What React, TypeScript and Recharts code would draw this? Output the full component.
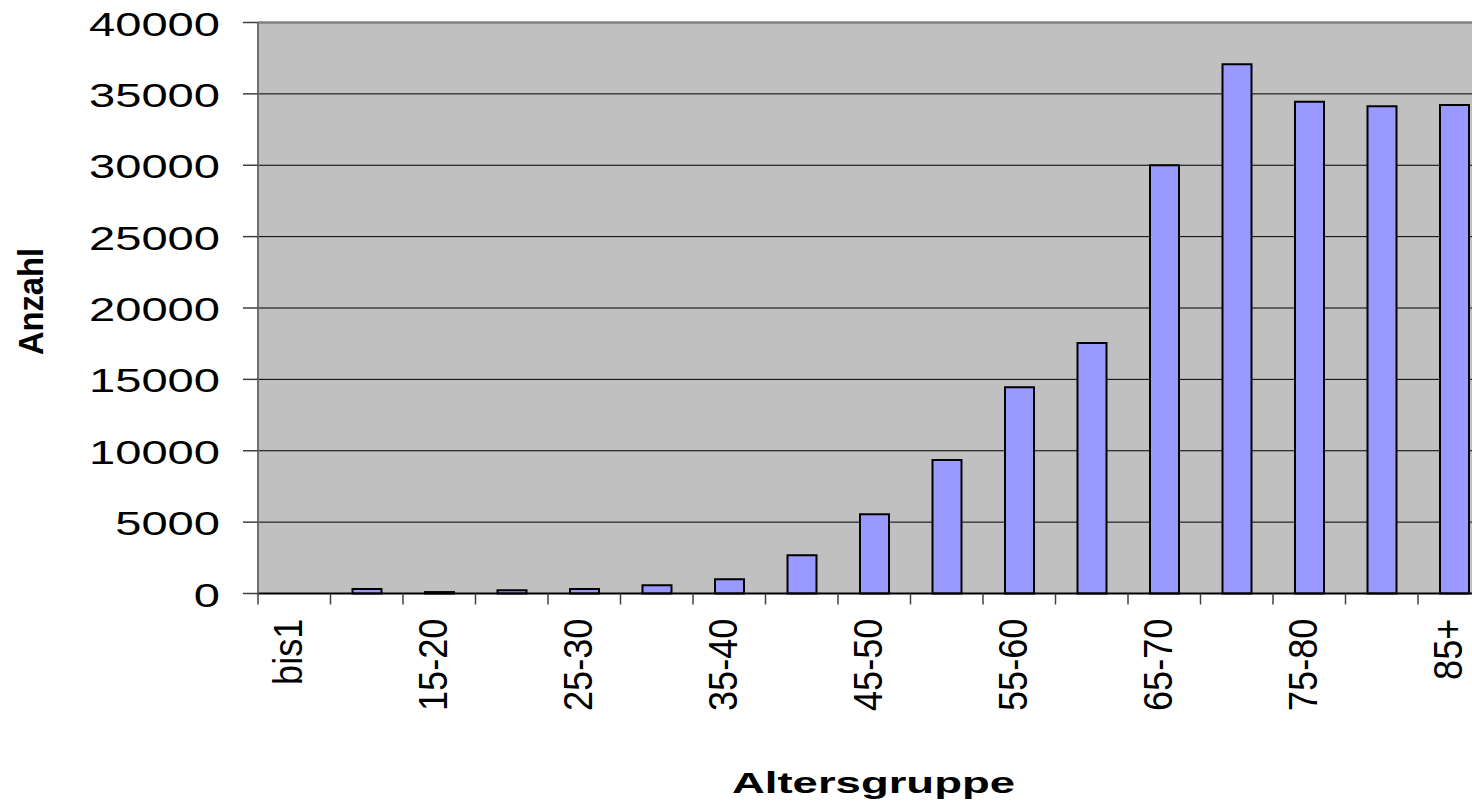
import React from 'react';
import { BarChart, Bar, XAxis, YAxis, CartesianGrid, ReferenceLine } from 'recharts';

const categories = ['bis1', '1-15', '15-20', '20-25', '25-30', '30-35', '35-40', '40-45', '45-50', '50-55', '55-60', '60-65', '65-70', '70-75', '75-80', '80-85', '85+'];
const counts = [0, 320, 100, 225, 320, 575, 1000, 2675, 5550, 9350, 14450, 17550, 30000, 37070, 34450, 34130, 34220];
const yTicks = [0, 5000, 10000, 15000, 20000, 25000, 30000, 35000, 40000];
const xTitle = 'Altersgruppe';
const yTitle = 'Anzahl';

const data = categories.map((c, i) => ({ cat: c, value: counts[i] }));

const FONT = '"Liberation Sans", Arial, sans-serif';
const CHART_W = 1500;
const CHART_H = 807;
const Y_AXIS_W = 258;
const MARGIN = { top: 22.5, right: 9.5, bottom: 0, left: 0 };
const X_AXIS_H = 213.5;
const BAND = (CHART_W - Y_AXIS_W - MARGIN.right - MARGIN.left) / categories.length;

const CHAR_W: Record<string, number> = { '-': 0.333, '+': 0.584, b: 0.556, i: 0.222, s: 0.5 };
const labelLength = (s: string) =>
  s.split('').reduce((acc, ch) => acc + (CHAR_W[ch] !== undefined ? CHAR_W[ch] : 0.556), 0) * 36.2;

const YTick = (props: any) => {
  const { x, y, payload } = props;
  const s = String(payload.value);
  return (
    <text
      x={x}
      y={y + 13}
      textAnchor="end"
      fontFamily={FONT}
      fontSize={33.5}
      fill="#000"
      textLength={26.2 * s.length}
      lengthAdjust="spacingAndGlyphs"
    >
      {s}
    </text>
  );
};

const XTick = (props: any) => {
  const { x, y, payload } = props;
  const idx = categories.indexOf(payload.value);
  const s = String(payload.value);
  return (
    <g>
      <line x1={x - BAND / 2} x2={x - BAND / 2} y1={y} y2={y + 11} stroke="#404040" strokeWidth={1.5} />
      {idx % 2 === 0 && (
        <text
          transform={`translate(${x + 8},${y + 25}) rotate(-90)`}
          textAnchor="end"
          fontFamily={FONT}
          fontSize={40}
          fill="#000"
          textLength={labelLength(s)}
          lengthAdjust="spacingAndGlyphs"
        >
          {s}
        </text>
      )}
    </g>
  );
};

const YTitle = (props: any) => {
  const vb = props.viewBox || { x: 0, y: 22.5, width: 258, height: 571 };
  const cx = vb.x + 43;
  const cy = vb.y + vb.height / 2 - 6.5;
  return (
    <text
      transform={`translate(${cx},${cy}) rotate(-90)`}
      textAnchor="middle"
      fontFamily={FONT}
      fontWeight="bold"
      fontSize={35}
      fill="#000"
      textLength={107}
      lengthAdjust="spacingAndGlyphs"
    >
      {yTitle}
    </text>
  );
};

const XTitle = (props: any) => {
  const vb = props.viewBox || { x: 258, y: 593.5, width: 1232.5, height: 213.5 };
  return (
    <text
      x={873.5}
      y={vb.y + 199.5}
      textAnchor="middle"
      fontFamily={FONT}
      fontWeight="bold"
      fontSize={30}
      fill="#000"
      textLength={283}
      lengthAdjust="spacingAndGlyphs"
    >
      {xTitle}
    </text>
  );
};

export default function App() {
  return (
    <div
      style={{
        position: 'fixed',
        left: 0,
        top: 0,
        width: 1472,
        height: 807,
        overflow: 'hidden',
        background: '#ffffff',
      }}
    >
      <BarChart width={CHART_W} height={CHART_H} data={data} margin={MARGIN}>
        <CartesianGrid fill="#C0C0C0" fillOpacity={1} vertical={false} stroke="#000" strokeWidth={1} />
        <XAxis
          dataKey="cat"
          interval={0}
          tickLine={false}
          tickSize={0}
          tickMargin={0}
          height={X_AXIS_H}
          axisLine={{ stroke: '#000', strokeWidth: 2 }}
          tick={<XTick />}
          label={{ content: <XTitle /> }}
        />
        <YAxis
          width={Y_AXIS_W}
          domain={[0, 40000]}
          ticks={yTicks}
          interval={0}
          tickSize={15}
          tickMargin={23}
          tickLine={{ stroke: '#404040', strokeWidth: 1.5 }}
          axisLine={{ stroke: '#707070', strokeWidth: 2 }}
          tick={<YTick />}
          label={{ content: <YTitle /> }}
        />
        <ReferenceLine y={40000} stroke="#808080" strokeWidth={2.5} />
        <Bar dataKey="value" fill="#9999FF" stroke="#000" strokeWidth={2} barSize={29} isAnimationActive={false} />
      </BarChart>
    </div>
  );
}
